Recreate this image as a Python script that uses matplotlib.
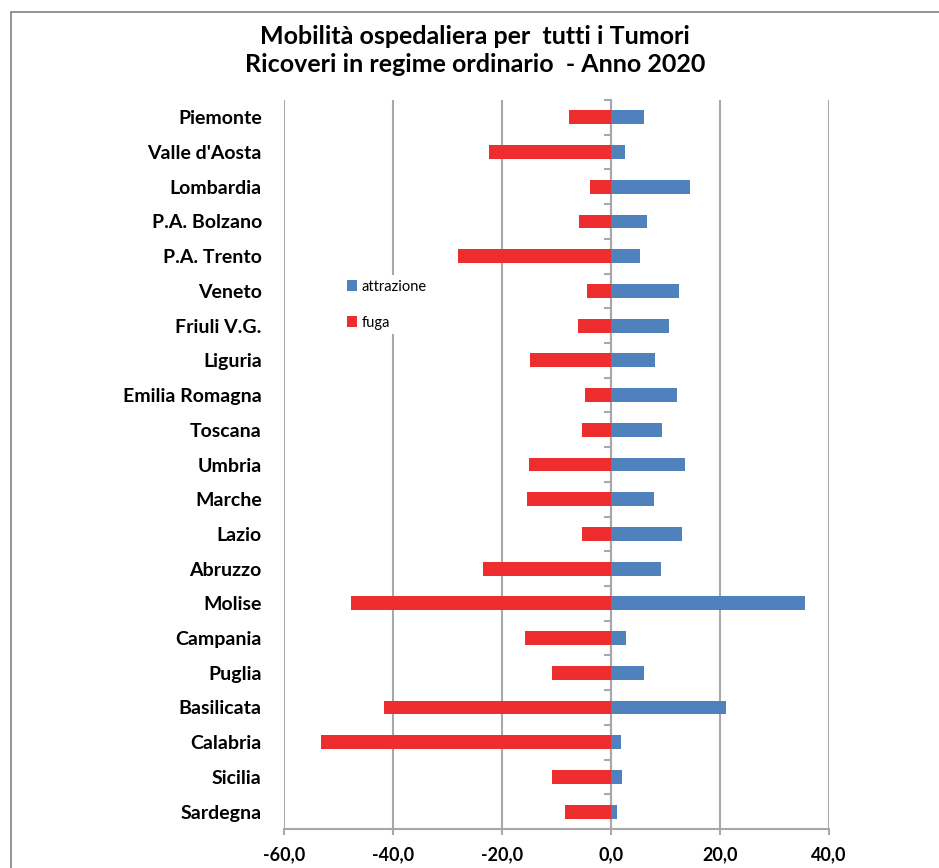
import matplotlib.pyplot as plt
from matplotlib.patches import Rectangle
from matplotlib.ticker import FuncFormatter
import numpy as np

regioni = ['Piemonte', "Valle d'Aosta", 'Lombardia', 'P.A. Bolzano', 'P.A. Trento',
           'Veneto', 'Friuli V.G.', 'Liguria', 'Emilia Romagna', 'Toscana', 'Umbria',
           'Marche', 'Lazio', 'Abruzzo', 'Molise', 'Campania', 'Puglia', 'Basilicata',
           'Calabria', 'Sicilia', 'Sardegna']
attrazione = [6.1, 2.5, 14.5, 6.6, 5.3, 12.4, 10.6, 8.0, 12.1, 9.3, 13.6,
              7.8, 13.1, 9.2, 35.6, 2.8, 6.0, 21.1, 1.9, 2.0, 1.1]
fuga = [-7.7, -22.4, -3.9, -5.9, -28.1, -4.4, -6.1, -14.9, -4.7, -5.4, -15.0,
        -15.4, -5.3, -23.5, -47.7, -15.7, -10.8, -41.7, -53.3, -10.9, -8.5]
xticks = [-60, -40, -20, 0, 20, 40]

plt.rcParams['font.family'] = ['Lato', 'DejaVu Sans']
grigio = '#a8a8ac'

fig = plt.figure(figsize=(9.39, 8.68), dpi=100)
ax = fig.add_axes([284/939, 1-829/868, 545/939, 729/868])

y = np.arange(len(regioni))
ax.barh(y, attrazione, height=0.4, color='#4f81bd', label='attrazione', zorder=2)
ax.barh(y, fuga, height=0.4, color='#ee2e2e', label='fuga', zorder=2)

ax.set_xlim(-60, 40)
ax.set_ylim(20.5, -0.5)
ax.set_xticks(xticks)
ax.xaxis.set_major_formatter(FuncFormatter(lambda v, p: ('%.1f' % v).replace('.', ',')))
ax.set_yticks(y)
ax.set_yticklabels(regioni)
ax.tick_params(axis='y', length=0, pad=16, labelsize=14)
ax.tick_params(axis='x', length=4.5, width=1.5, color=grigio, pad=8, labelsize=13)
for lab in ax.get_xticklabels() + ax.get_yticklabels():
    lab.set_fontweight('bold')

ax.grid(axis='x', color=grigio, linewidth=1.5, zorder=1)
ax.set_axisbelow(True)
for s in ['top', 'right', 'left']:
    ax.spines[s].set_visible(False)
ax.spines['bottom'].set_color(grigio)
ax.spines['bottom'].set_linewidth(1.5)

# asse verticale sullo zero con le tacche tra le categorie
sec = ax.secondary_yaxis(0.6)
sec.set_yticks(np.arange(-0.5, len(regioni), 1.0))
sec.set_yticklabels([])
sec.tick_params(direction='in', length=5, width=1.5, color=grigio)
for s in sec.spines.values():
    s.set_color(grigio)
    s.set_linewidth(1.5)

leg = fig.legend(loc='upper left', bbox_to_anchor=(335/939, 1-268/868),
                 frameon=True, facecolor='white', edgecolor='none', framealpha=1,
                 handlelength=0.7, handleheight=0.7, handletextpad=0.3,
                 labelspacing=1.5, fontsize=10.5, borderpad=0.3)
leg.get_frame().set_linewidth(0)

fig.text(0.506, 1-37/868, 'Mobilità ospedaliera per  tutti i Tumori', ha='center', va='center',
         fontsize=18, fontweight='bold')
fig.text(0.506, 1-65/868, 'Ricoveri in regime ordinario  - Anno 2020', ha='center', va='center',
         fontsize=18, fontweight='bold')

fig.patches.append(Rectangle((11/939, -0.1), 1.2, 1.1 - 12/868, transform=fig.transFigure,
                             fill=False, edgecolor='#808080', linewidth=1.2))

plt.savefig('out.png')
